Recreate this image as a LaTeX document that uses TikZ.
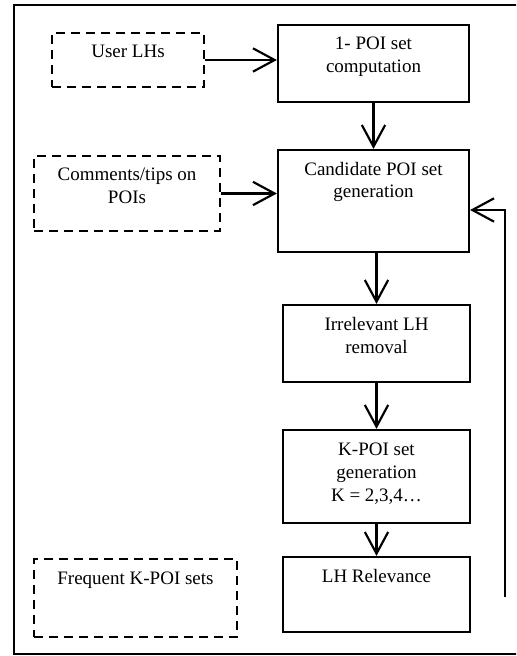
\documentclass[tikz,border=0pt]{standalone}
\usepackage{fontspec}
\setmainfont{Liberation Serif}
\usetikzlibrary{arrows.meta,positioning}

\begin{document}
\begin{tikzpicture}[
    x=0.6pt, y=0.6pt,
    every node/.style={font=\fontsize{11.4}{13.8}\selectfont},
    stepbox/.style={rectangle, draw, line width=1.3pt, align=center, inner ysep=0pt, text height=15pt, minimum width=112pt},
    twolines/.style={text height=28.8pt},
    threelines/.style={text height=42.6pt},
    inputbox/.style={stepbox, dash pattern=on 5.4pt off 3.6pt},
    flow/.style={line width=1.3pt, -{Straight Barb[length=13pt, width=14pt]}},
]
    % Page and outer frame
    \useasboundingbox (0,0) rectangle (516,-656);
    \clip (0,0) rectangle (516,-656);
    \draw[line width=1pt] (14,-5) rectangle (530,-654);

    % Inputs (dashed)
    \node[inputbox, minimum width=91.2pt, text depth=17.4pt] (userlh) at (128,-60) {User LHs};
    \node[inputbox, twolines, minimum width=111.6pt, text depth=16.2pt] (comments) at (127,-193.5) {Comments/tips on\\POIs};
    \node[inputbox, minimum width=121.8pt, text depth=31.8pt] (frequent) at (135.5,-598) {Frequent K-POI sets};

    % Processing steps
    \node[stepbox, twolines, minimum width=114.6pt, text depth=17.4pt] (onepoi) at (373.5,-63.5) {1- POI set\\computation};
    \node[stepbox, twolines, minimum width=114.6pt, text depth=32.4pt] (candidate) at (373.5,-201) {Candidate POI set\\generation};
    \node[stepbox, twolines, text depth=17.4pt] (irrelevant) at (376.5,-343.5) {Irrelevant LH\\removal};
    \node[stepbox, threelines, text depth=13.2pt] (kpoi) at (376.5,-476.5) {K-POI set\\generation\\K = 2,3,4…};
    \node[stepbox, text depth=30pt] (relevance) at (376.5,-594.5) {LH Relevance};

    % Edges
    \draw[flow] (userlh.east) -- (onepoi.west |- userlh.east);
    \draw[flow] (comments.east) -- (candidate.west |- comments.east);
    \draw[flow] (onepoi) -- (candidate);
    \draw[flow] (candidate.south -| irrelevant) -- (irrelevant);
    \draw[flow] (irrelevant) -- (kpoi);
    \draw[flow] (kpoi) -- (relevance);

    % Feedback loop
    \coordinate (loopstart) at (505,-597);
    \coordinate (loopturn) at (505,-210);
    \draw[flow] (loopstart) -- (loopturn) -- (candidate.east |- loopturn);
\end{tikzpicture}
\end{document}
